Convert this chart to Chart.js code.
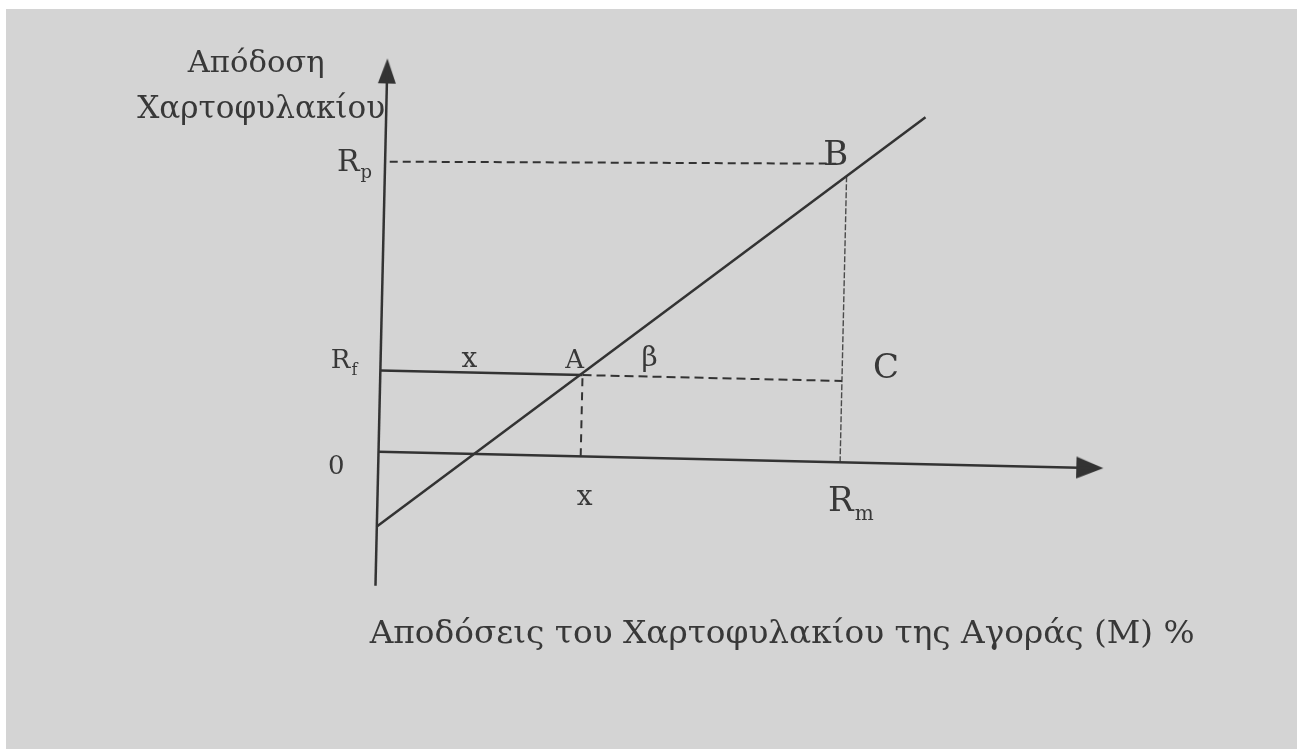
<!DOCTYPE html>
<html>
<head>
<meta charset="utf-8">
<script src="https://cdn.jsdelivr.net/npm/chart.js@4.4.1/dist/chart.umd.min.js"></script>
<style>
  html, body { margin: 0; padding: 0; background: #fff; }
  #wrap { position: relative; width: 1297px; height: 749px; }
</style>
</head>
<body>
<div id="wrap"><canvas id="cml" width="1297" height="749"></canvas></div>
<script>
// returns in %
const rm = 10;             // market portfolio return
const rp = 10;             // portfolio return at B
const rf = 2.8;            // risk-free return
const xA = 4.38;           // market return at point A
const bTop = 9.86;         // line value at Rm
const lineX = [0, 11.68];  // characteristic line
const lineY = [-2.58, 11.95];
const rpDashX = [0.1, 9.77];
const rpDashY = [10.0, 10.28]; // hand-drawn Rp guide, rises a little to the right
const xAxisEnd = 15.41;
const yAxisRange = [-4.62, 13.12];

const yTitle = ['Απόδοση', 'Χαρτοφυλακίου'];
const xTitle = 'Αποδόσεις του Χαρτοφυλακίου της Αγοράς (Μ) %';
const levelNames = [['R', 'p'], ['R', 'f'], ['R', 'm']];
const pointNames = ['A', 'β', 'B', 'C', 'x', '0'];

const ink = '#333';
const textInk = '#383838';
const tilt = 1.3 * Math.PI / 180;

function arrowHead(w, h) {
  const c = document.createElement('canvas');
  c.width = w; c.height = h;
  const g = c.getContext('2d');
  g.fillStyle = ink;
  g.beginPath();
  g.moveTo(w / 2, 0); g.lineTo(w, h); g.lineTo(0, h);
  g.closePath(); g.fill();
  return c;
}

function seg(x1, y1, x2, y2, width, dash, color) {
  return {
    data: [{ x: x1, y: y1 }, { x: x2, y: y2 }],
    showLine: true,
    borderColor: color || ink,
    borderWidth: width,
    borderDash: dash || [],
    pointRadius: 0
  };
}

function arrow(x, y, img, rot) {
  return {
    data: [{ x: x, y: y }],
    pointStyle: img,
    pointRotation: rot,
    pointRadius: 5,
    borderColor: ink,
    backgroundColor: ink
  };
}

// the drawing sits slightly turned; text stays level
function place(chart, xv, yv) {
  const sx = chart.scales.x, sy = chart.scales.y;
  const ox = sx.getPixelForValue(0), oy = sy.getPixelForValue(0);
  const dx = sx.getPixelForValue(xv) - ox;
  const dy = sy.getPixelForValue(yv) - oy;
  const c = Math.cos(tilt), s = Math.sin(tilt);
  return { x: ox + dx * c - dy * s, y: oy + dx * s + dy * c };
}

function drawText(ctx, str, x, y, size, align, fitWidth) {
  ctx.save();
  ctx.font = size + 'px "DejaVu Serif"';
  ctx.fillStyle = textInk;
  ctx.textBaseline = 'alphabetic';
  ctx.textAlign = align;
  let k = 1;
  if (fitWidth) k = fitWidth / ctx.measureText(str).width;
  ctx.translate(x, y);
  ctx.scale(k, 1);
  ctx.fillText(str, 0, 0);
  ctx.restore();
}

// R with a subscript; align 'right' puts the subscript end at x
function drawSub(ctx, main, sub, x, y, size, align) {
  ctx.save();
  ctx.font = size + 'px "DejaVu Serif"';
  const wm = ctx.measureText(main).width;
  ctx.font = Math.round(size * 0.6) + 'px "DejaVu Serif"';
  const ws = ctx.measureText(sub).width;
  ctx.restore();
  const left = align === 'right' ? x - wm - ws - 1 : x;
  drawText(ctx, main, left, y, size, 'left');
  drawText(ctx, sub, left + wm + 1, y + size * 0.25, Math.round(size * 0.6), 'left');
}

const upHead = arrowHead(18, 25);
const sideHead = arrowHead(22, 27);

const tiltPlugin = {
  id: 'tilt',
  beforeDraw(chart) {
    const ctx = chart.ctx;
    ctx.save();
    ctx.fillStyle = '#d4d4d4';
    ctx.fillRect(6, 9, chart.width - 6, chart.height - 9);
    ctx.restore();
  },
  beforeDatasetsDraw(chart) {
    const ctx = chart.ctx;
    const o = place(chart, 0, 0);
    ctx.save();
    ctx.translate(o.x, o.y);
    ctx.rotate(tilt);
    ctx.translate(-o.x, -o.y);
  },
  afterDatasetsDraw(chart) {
    chart.ctx.restore();
  },
  afterDraw(chart) {
    const ctx = chart.ctx;
    let p;

    p = place(chart, 0, yAxisRange[1]);
    drawText(ctx, yTitle[0], p.x - 131, p.y + 1, 30, 'center', 137);
    drawText(ctx, yTitle[1], p.x - 126, p.y + 47, 32, 'center', 248);

    p = place(chart, 0, rp);
    drawSub(ctx, levelNames[0][0], levelNames[0][1], p.x - 13, p.y + 9, 30, 'right');
    p = place(chart, 0, rf);
    drawSub(ctx, levelNames[1][0], levelNames[1][1], p.x - 23, p.y - 2, 26, 'right');
    drawText(ctx, pointNames[4], p.x + 89, p.y - 3, 28, 'center');
    p = place(chart, 0, 0);
    drawText(ctx, pointNames[5], p.x - 34, p.y + 22, 26, 'right');

    p = place(chart, xA, rf);
    drawText(ctx, pointNames[0], p.x - 8, p.y - 7, 26, 'center');
    drawText(ctx, pointNames[1], p.x + 67, p.y - 9, 28, 'center');
    p = place(chart, xA, 0);
    drawText(ctx, pointNames[4], p.x + 4, p.y + 49, 28, 'center');

    p = place(chart, rm, rp);
    drawText(ctx, pointNames[2], p.x - 11, p.y - 7, 34, 'center');
    p = place(chart, rm, rf);
    drawText(ctx, pointNames[3], p.x + 31, p.y - 3, 34, 'left');
    p = place(chart, rm, 0);
    drawSub(ctx, levelNames[2][0], levelNames[2][1], p.x - 12, p.y + 49, 34, 'left');

    p = place(chart, xAxisEnd / 2, 0);
    drawText(ctx, xTitle, p.x + 48, p.y + 183, 32, 'center', 825);
  }
};

new Chart(document.getElementById('cml'), {
  type: 'scatter',
  data: {
    datasets: [
      seg(0, 0, xAxisEnd, 0, 2.5),
      seg(0, yAxisRange[0], 0, yAxisRange[1], 2.5),
      arrow(xAxisEnd, 0, sideHead, 90),
      arrow(0, yAxisRange[1], upHead, 0),
      seg(lineX[0], lineY[0], lineX[1], lineY[1], 2.5),
      seg(0, rf, xA, rf, 2.5),
      seg(xA, rf, rm, rf, 2, [9, 5]),
      seg(xA, 0, xA, rf, 2, [8, 6]),
      seg(rpDashX[0], rpDashY[0], rpDashX[1], rpDashY[1], 2, [8, 5]),
      seg(rm, 0, rm, bTop, 1.4, [6, 2], '#4a4a4a')
    ]
  },
  options: {
    responsive: false,
    animation: false,
    events: [],
    devicePixelRatio: 1,
    layout: { padding: 0 },
    elements: { point: { radius: 0 } },
    plugins: { legend: { display: false }, tooltip: { enabled: false } },
    scales: {
      x: { type: 'linear', display: false, min: -376 / 46.6, max: (1297 - 376) / 46.6 },
      y: { type: 'linear', display: false, min: -296 / 29.5, max: 453 / 29.5 }
    }
  },
  plugins: [tiltPlugin]
});
</script>
</body>
</html>
